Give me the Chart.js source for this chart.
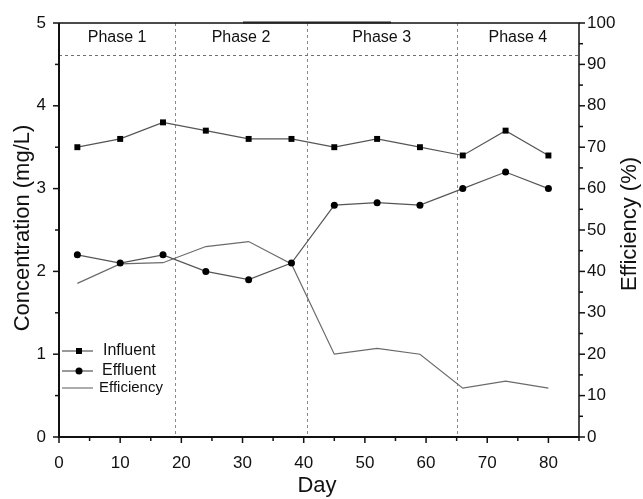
<!DOCTYPE html>
<html>
<head>
<meta charset="utf-8">
<script src="https://cdn.jsdelivr.net/npm/chart.js@4.4.1/dist/chart.umd.min.js"></script>
<style>
  html, body { margin: 0; padding: 0; background: #fff; }
  #wrap { width: 643px; height: 499px; position: relative; }
</style>
</head>
<body>
<div id="wrap"><canvas id="grafico" width="643" height="499"></canvas></div>
<script>
// datos
const dias = [3, 10, 17, 24, 31, 38, 45, 52, 59, 66, 73, 80];
const influente = [3.5, 3.6, 3.8, 3.7, 3.6, 3.6, 3.5, 3.6, 3.5, 3.4, 3.7, 3.4];
const efluente = [2.2, 2.1, 2.2, 2.0, 1.9, 2.1, 2.8, 2.83, 2.8, 3.0, 3.2, 3.0];
const eficiencia = [37.1, 41.8, 42.1, 46.0, 47.2, 41.8, 20.0, 21.4, 20.0, 11.8, 13.5, 11.8];

// fases
const limitesFase = [19, 40.5, 65];
const nombresFase = ["Phase 1", "Phase 2", "Phase 3", "Phase 4"];
const centrosFase = [9.5, 29.75, 52.75, 75];
const nivelFase = 4.61;

const FUENTE = "'Liberation Sans', Arial, sans-serif";

function puntos(ys) {
    return dias.map((d, i) => ({ x: d, y: ys[i] }));
}

// dibujos extra: marco, ticks, fases, leyenda, titulos
const extras = {
    id: "extras",
    beforeDatasetsDraw(chart) {
        const { ctx, chartArea: a, scales } = chart;
        const sx = scales.x, sy = scales.y;
        ctx.save();
        ctx.strokeStyle = "#8a8a8a";
        ctx.lineWidth = 1;
        ctx.setLineDash([3, 3]);
        limitesFase.forEach(v => {
            const px = Math.round(sx.getPixelForValue(v)) + 0.5;
            ctx.beginPath();
            ctx.moveTo(px, a.top);
            ctx.lineTo(px, a.bottom);
            ctx.stroke();
        });
        const py = Math.round(sy.getPixelForValue(nivelFase)) + 0.5;
        ctx.strokeStyle = "#707070";
        ctx.beginPath();
        ctx.moveTo(a.left, py);
        ctx.lineTo(a.right, py);
        ctx.stroke();
        ctx.setLineDash([]);

        ctx.fillStyle = "#111";
        ctx.font = "16px " + FUENTE;
        ctx.textAlign = "center";
        ctx.textBaseline = "middle";
        nombresFase.forEach((n, i) => {
            ctx.fillText(n, sx.getPixelForValue(centrosFase[i]), 38);
        });
        ctx.restore();
    },
    afterDraw(chart) {
        const { ctx, chartArea: a, scales } = chart;
        const sx = scales.x, sy = scales.y, sy1 = scales.y1;
        ctx.save();
        ctx.strokeStyle = "#111";

        // marco
        ctx.lineWidth = 2;
        ctx.beginPath();
        ctx.moveTo(a.left, a.top);
        ctx.lineTo(a.left, a.bottom);
        ctx.lineTo(a.right, a.bottom);
        ctx.stroke();
        ctx.lineWidth = 1.5;
        ctx.beginPath();
        ctx.moveTo(a.left, a.top);
        ctx.lineTo(a.right, a.top);
        ctx.lineTo(a.right, a.bottom);
        ctx.stroke();
        // tramo algo mas grueso arriba (como en la figura)
        ctx.strokeStyle = "#222";
        ctx.lineWidth = 2;
        ctx.beginPath();
        ctx.moveTo(243, a.top - 0.5);
        ctx.lineTo(391, a.top - 0.5);
        ctx.stroke();
        ctx.strokeStyle = "#111";

        // ticks
        ctx.lineWidth = 1.5;
        for (let v = 0; v <= 85; v += 5) {
            const px = sx.getPixelForValue(v);
            const len = v % 10 === 0 ? 6 : 4;
            ctx.beginPath();
            ctx.moveTo(px, a.bottom);
            ctx.lineTo(px, a.bottom + len);
            ctx.stroke();
        }
        for (let v = 0; v <= 5; v += 0.5) {
            const py = sy.getPixelForValue(v);
            const len = Number.isInteger(v) ? 6 : 4;
            ctx.beginPath();
            ctx.moveTo(a.left, py);
            ctx.lineTo(a.left - len, py);
            ctx.stroke();
        }
        for (let v = 0; v <= 100; v += 5) {
            const py = sy1.getPixelForValue(v);
            const len = v % 10 === 0 ? 6 : 4;
            ctx.beginPath();
            ctx.moveTo(a.right, py);
            ctx.lineTo(a.right + len, py);
            ctx.stroke();
        }

        // leyenda
        const filas = [
            { t: "Influent", y: 351, m: "rect", tx: 103, f: 16 },
            { t: "Effluent", y: 371, m: "circle", tx: 102, f: 16 },
            { t: "Efficiency", y: 388, m: null, tx: 99, f: 15 }
        ];
        filas.forEach(r => {
            ctx.strokeStyle = r.m ? "#555" : "#777";
            ctx.lineWidth = 1.2;
            ctx.beginPath();
            ctx.moveTo(62, r.y);
            ctx.lineTo(93, r.y);
            ctx.stroke();
            ctx.fillStyle = "#000";
            if (r.m === "rect") ctx.fillRect(76, r.y - 3, 6, 6);
            if (r.m === "circle") {
                ctx.beginPath();
                ctx.arc(79, r.y, 3.5, 0, Math.PI * 2);
                ctx.fill();
            }
            ctx.fillStyle = "#111";
            ctx.font = r.f + "px " + FUENTE;
            ctx.textAlign = "left";
            ctx.textBaseline = "middle";
            ctx.fillText(r.t, r.tx, r.y);
        });

        // titulos de ejes
        ctx.fillStyle = "#111";
        ctx.font = "22px " + FUENTE;
        ctx.textAlign = "center";
        ctx.textBaseline = "middle";
        ctx.fillText("Day", (a.left + sx.getPixelForValue(85)) / 2 - 2, 486);

        ctx.save();
        ctx.translate(23, 228);
        ctx.rotate(-Math.PI / 2);
        ctx.fillText("Concentration (mg/L)", 0, 0);
        ctx.restore();

        ctx.save();
        ctx.translate(630, 224);
        ctx.rotate(-Math.PI / 2);
        ctx.fillText("Efficiency (%)", 0, 0);
        ctx.restore();

        ctx.restore();
    }
};

const ctx = document.getElementById("grafico").getContext("2d");
const grafico = new Chart(ctx, {
    type: "line",
    data: {
        datasets: [
            {
                label: "Influent",
                data: puntos(influente),
                yAxisID: "y",
                borderColor: "#555",
                borderWidth: 1.2,
                pointStyle: "rect",
                pointRadius: 4.2,
                pointBackgroundColor: "#000",
                pointBorderColor: "#000",
                pointBorderWidth: 0,
                tension: 0
            },
            {
                label: "Effluent",
                data: puntos(efluente),
                yAxisID: "y",
                borderColor: "#555",
                borderWidth: 1.2,
                pointStyle: "circle",
                pointRadius: 3.5,
                pointBackgroundColor: "#000",
                pointBorderColor: "#000",
                pointBorderWidth: 0,
                tension: 0
            },
            {
                label: "Efficiency",
                data: puntos(eficiencia),
                yAxisID: "y1",
                borderColor: "#6a6a6a",
                borderWidth: 1.2,
                pointRadius: 0,
                tension: 0
            }
        ]
    },
    options: {
        responsive: false,
        animation: false,
        layout: { padding: { top: 23, left: 0, right: 0, bottom: 0 } },
        plugins: { legend: { display: false }, tooltip: { enabled: false } },
        scales: {
            x: {
                type: "linear",
                min: 0,
                max: 85,
                grid: { display: false },
                border: { display: false },
                afterFit: s => { s.height = 62; },
                ticks: {
                    stepSize: 10,
                    padding: 8,
                    color: "#111",
                    font: { family: FUENTE, size: 17 },
                    callback: v => (v % 10 === 0 ? v : "")
                }
            },
            y: {
                position: "left",
                min: 0,
                max: 5,
                grid: { display: false },
                border: { display: false },
                afterFit: s => { s.width = 59; },
                ticks: {
                    stepSize: 1,
                    padding: 5,
                    color: "#111",
                    font: { family: FUENTE, size: 17 }
                }
            },
            y1: {
                position: "right",
                min: 0,
                max: 100,
                grid: { display: false },
                border: { display: false },
                afterFit: s => { s.width = 64; },
                ticks: {
                    stepSize: 10,
                    padding: 0,
                    color: "#111",
                    font: { family: FUENTE, size: 17 }
                }
            }
        }
    },
    plugins: [extras]
});
</script>
</body>
</html>
